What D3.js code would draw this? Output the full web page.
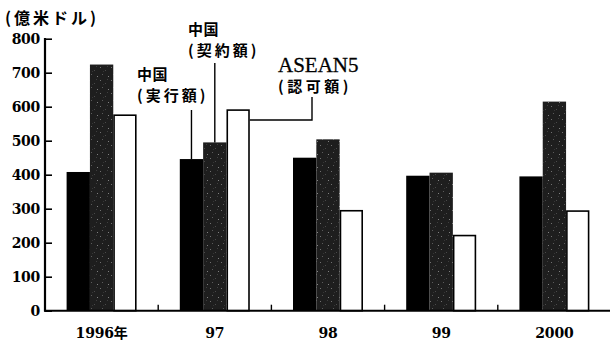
<!DOCTYPE html>
<html><head><meta charset="utf-8">
<script src="https://cdn.jsdelivr.net/npm/d3@7"></script>
<style>
html,body{margin:0;padding:0;background:#fff;}
svg{display:block;}
</style></head>
<body>
<svg id="c" width="610" height="341"></svg>
<script>
const years = ["1996年", "97", "98", "99", "2000"];
const seriesKeys = ["china_actual", "china_contract", "asean5"];
const chinaActual = [408, 446, 450, 397, 395];
const chinaContract = [724, 495, 504, 406, 615];
const asean5 = [575, 590, 294, 221, 293];
const yTicks = [0, 100, 200, 300, 400, 500, 600, 700, 800];
const unitLabel = "(億米ドル)";
const seriesValues = {china_actual: chinaActual, china_contract: chinaContract, asean5: asean5};

const svg = d3.select("#c");
const defs = svg.append("defs");
const pat = defs.append("pattern").attr("id","dots").attr("patternUnits","userSpaceOnUse")
  .attr("width",11).attr("height",13);
pat.append("rect").attr("width",11).attr("height",13).attr("fill","#1e1e1e");
[[1,2,"#707070"],[6,5,"#4a4a4a"],[3,9,"#5a5a5a"],[9,11,"#808080"],[8,1,"#3e3e3e"],[4,6,"#353535"]]
  .forEach(([px,py,c]) => pat.append("rect").attr("x",px).attr("y",py).attr("width",1).attr("height",1).attr("fill",c));

const y = d3.scaleLinear().domain([0,800]).range([310.7, 38.7]);
const x0 = d3.scaleBand().domain(years).range([45, 611]).padding(0);
const groupW = 70;
const x1 = d3.scaleBand().domain(seriesKeys).range([0, groupW]).padding(0);
const gx = d => x0(d) + (x0.bandwidth() - groupW)/2;

const fills = {china_actual: "#000", china_contract: "url(#dots)", asean5: "#fff"};

// bars
seriesKeys.forEach(k => {
  svg.append("g").selectAll("rect").data(years.map((yr,i)=>({yr, v: seriesValues[k][i]})))
    .join("rect")
    .attr("x", d => gx(d.yr) + x1(k) + (k==="asean5"?0.8:0))
    .attr("y", d => y(d.v))
    .attr("width", x1.bandwidth() - (k==="asean5"?1.6:0))
    .attr("height", d => y(0) - y(d.v))
    .attr("fill", fills[k])
    .attr("stroke", k==="asean5" ? "#000" : "none")
    .attr("stroke-width", 1.6);
});

// y axis
const yAxis = d3.axisLeft(y).tickValues(yTicks).tickSize(-7).tickPadding(5).tickFormat(d3.format("d"));
const ya = svg.append("g").attr("transform","translate(45,0)").call(yAxis);
ya.select(".domain").remove();
ya.selectAll(".tick line").attr("stroke","#000").attr("stroke-width",1.6);
ya.selectAll("text").attr("font-family","DejaVu Serif").attr("font-weight","bold")
  .attr("font-size",14).attr("fill","#000").attr("letter-spacing","-0.3px");
svg.append("line").attr("x1",45).attr("x2",45).attr("y1",y(800)-0.8).attr("y2",y(0)+0.8)
  .attr("stroke","#000").attr("stroke-width",2.2);

// x axis
const xAxis = d3.axisBottom(x0).tickSize(0).tickPadding(17);
const xa = svg.append("g").attr("transform",`translate(0,${y(0)})`).call(xAxis);
xa.select(".domain").remove();
xa.selectAll("text").attr("font-family","DejaVu Serif, Noto Sans CJK JP").attr("font-weight","bold")
  .attr("font-size",14).attr("fill","#000").attr("letter-spacing","-0.2px");
svg.append("line").attr("x1",44).attr("x2",610).attr("y1",y(0)).attr("y2",y(0))
  .attr("stroke","#000").attr("stroke-width",2);
svg.append("g").selectAll("line").data(years.slice(0,-1)).join("line")
  .attr("x1", d => x0(d)+x0.bandwidth()).attr("x2", d => x0(d)+x0.bandwidth())
  .attr("y1", y(0)).attr("y2", y(0)-6).attr("stroke","#000").attr("stroke-width",1.4);

// unit label
svg.append("text").attr("x",5).attr("y",24).text(unitLabel)
  .attr("font-family","Noto Sans CJK JP").attr("font-weight","bold").attr("font-size",16)
  .attr("letter-spacing","3px");

// annotations
const cjk = (x,yy,t,ls) => svg.append("text").attr("x",x).attr("y",yy).text(t)
  .attr("font-family","Noto Sans CJK JP").attr("font-weight","bold").attr("font-size",15)
  .attr("letter-spacing",ls+"px");
cjk(137,80,"中国",0.5);
cjk(137,101,"(実行額)",3);
cjk(188,35,"中国",0.5);
cjk(188,56,"(契約額)",3);
svg.append("text").attr("x",278).attr("y",72).text("ASEAN5")
  .attr("font-family","Liberation Serif").attr("font-size",21)
  .attr("stroke","#000").attr("stroke-width",0.3);
cjk(278,92,"(認可額)",3.5);

const yr97 = years[1];
const cxA = gx(yr97) + x1("china_actual") + x1.bandwidth()/2;
const cxC = gx(yr97) + x1("china_contract") + x1.bandwidth()/2;
const rxW = gx(yr97) + x1("asean5") + x1.bandwidth();
svg.append("line").attr("x1",cxA).attr("x2",cxA).attr("y1",110).attr("y2",y(chinaActual[1]))
  .attr("stroke","#000").attr("stroke-width",1.4);
svg.append("line").attr("x1",cxC).attr("x2",cxC).attr("y1",63).attr("y2",y(chinaContract[1]))
  .attr("stroke","#000").attr("stroke-width",1.4);
svg.append("path").attr("d",`M312,97 V120 H${rxW}`).attr("fill","none")
  .attr("stroke","#000").attr("stroke-width",1.4);
</script>
</body></html>
